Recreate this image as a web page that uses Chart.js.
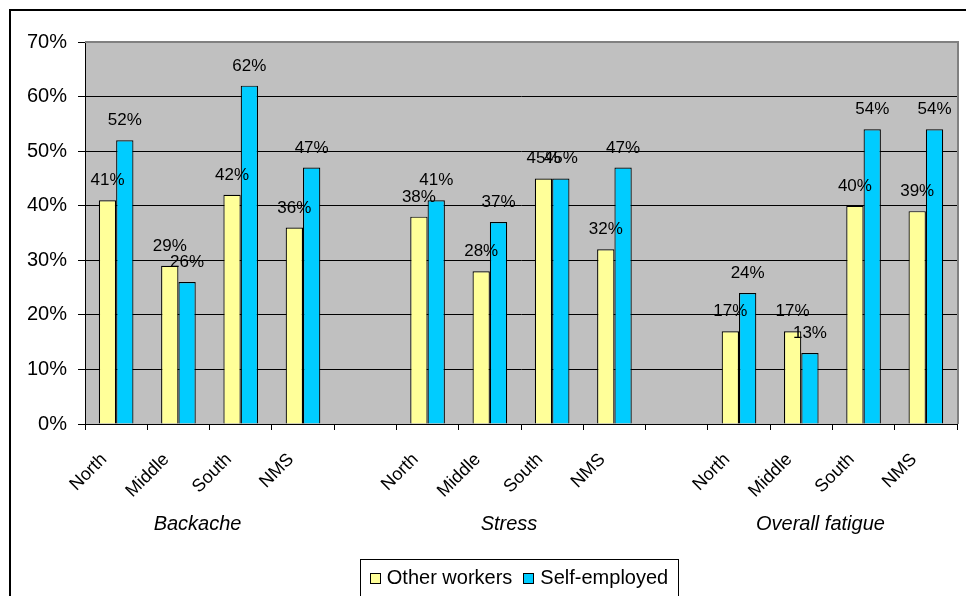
<!DOCTYPE html>
<html>
<head>
<meta charset="utf-8">
<script src="https://cdn.jsdelivr.net/npm/chart.js@4.4.1/dist/chart.umd.min.js"></script>
<style>
  html, body { margin: 0; padding: 0; background: #ffffff; }
  #wrap { width: 966px; height: 596px; position: relative; }
</style>
</head>
<body>
<div id="wrap"><canvas id="c" width="966" height="596"></canvas></div>
<script>
// Regions per symptom group; empty slots separate the groups
const categories = ['North', 'Middle', 'South', 'NMS', '',
                    'North', 'Middle', 'South', 'NMS', '',
                    'North', 'Middle', 'South', 'NMS'];
const groups = ['Backache', 'Stress', 'Overall fatigue'];
const groupSpans = [[0, 3], [5, 8], [10, 13]];
const seriesNames = ['Other workers', 'Self-employed'];
const otherWorkers = [41, 29, 42, 36, null, 38, 28, 45, 32, null, 17, 17, 40, 39];
const selfEmployed = [52, 26, 62, 47, null, 41, 37, 45, 47, null, 24, 13, 54, 54];
const yTicks = [0, 10, 20, 30, 40, 50, 60, 70];

const FONT = "'Liberation Sans', Arial, sans-serif";
const colors = ['#FFFF99', '#00CCFF'];

// Grey plot background, frame lines, value labels, group names and boxed legend
const decor = {
  id: 'decor',
  beforeDraw(chart) {
    const { ctx, chartArea: a } = chart;
    ctx.save();
    ctx.fillStyle = '#C0C0C0';
    ctx.fillRect(a.left, a.top, a.right - a.left, a.bottom - a.top);
    ctx.restore();
  },
  beforeDatasetsDraw(chart) {
    const { ctx, chartArea: a } = chart;
    ctx.save();
    ctx.strokeStyle = '#808080';
    ctx.lineWidth = 2;
    ctx.beginPath();
    ctx.moveTo(a.left, a.top);
    ctx.lineTo(a.right + 1, a.top);
    ctx.lineTo(a.right + 1, a.bottom);
    ctx.stroke();
    ctx.restore();
  },
  afterDraw(chart) {
    const { ctx, chartArea: a } = chart;
    ctx.save();
    // outer frame
    ctx.strokeStyle = '#000';
    ctx.lineWidth = 2;
    ctx.beginPath();
    ctx.moveTo(10, chart.height);
    ctx.lineTo(10, 10);
    ctx.lineTo(chart.width, 10);
    ctx.stroke();

    // value labels
    ctx.fillStyle = '#000';
    ctx.font = '17px ' + FONT;
    ctx.textAlign = 'center';
    ctx.textBaseline = 'alphabetic';
    chart.data.datasets.forEach((ds, di) => {
      chart.getDatasetMeta(di).data.forEach((bar, i) => {
        const v = ds.data[i];
        if (v === null || v === undefined) return;
        ctx.fillText(v + '%', bar.x, bar.y - 15);
      });
    });

    // group names under the category labels
    const xs = chart.scales.x;
    ctx.font = 'italic 20px ' + FONT;
    ctx.textBaseline = 'middle';
    groups.forEach((g, gi) => {
      const [s, e] = groupSpans[gi];
      const cx = (xs.getPixelForValue(s) + xs.getPixelForValue(e)) / 2 - 12;
      ctx.fillText(g, cx, a.bottom + 100);
    });

    // legend
    ctx.font = '20px ' + FONT;
    const box = 11, gapBox = 6, gapItem = 11, padX = 10;
    const widths = seriesNames.map(n => ctx.measureText(n).width);
    let total = padX * 2;
    widths.forEach((w, i) => { total += box + gapBox + w + (i ? gapItem : 0); });
    const lx = (a.left + a.right) / 2 - total / 2 - 2;
    const ly = a.bottom + 135;
    const lh = 38;
    ctx.strokeStyle = '#000';
    ctx.lineWidth = 1;
    ctx.strokeRect(Math.round(lx) + 0.5, Math.round(ly) + 0.5, Math.round(total), lh);
    let x = lx + padX;
    const cy = ly + 18;
    ctx.textAlign = 'left';
    ctx.textBaseline = 'middle';
    seriesNames.forEach((n, i) => {
      if (i) x += gapItem;
      ctx.fillStyle = colors[i];
      ctx.fillRect(Math.round(x), Math.round(cy - 4), box, box);
      ctx.strokeRect(Math.round(x) + 0.5, Math.round(cy - 4) + 0.5, box - 1, box - 1);
      x += box + gapBox;
      ctx.fillStyle = '#000';
      ctx.fillText(n, x, cy + 1);
      x += widths[i];
    });
    ctx.restore();
  }
};

new Chart(document.getElementById('c'), {
  type: 'bar',
  data: {
    labels: categories,
    datasets: [
      { label: seriesNames[0], data: otherWorkers, backgroundColor: colors[0],
        borderColor: '#000', borderWidth: 1.2 },
      { label: seriesNames[1], data: selfEmployed, backgroundColor: colors[1],
        borderColor: '#000', borderWidth: 1.2 }
    ]
  },
  options: {
    responsive: false,
    animation: false,
    devicePixelRatio: 1,
    layout: { padding: { left: 0, right: 9, top: 42, bottom: 0 }, autoPadding: false },
    datasets: { bar: { categoryPercentage: 0.556, barPercentage: 1.0 } },
    plugins: { legend: { display: false }, tooltip: { enabled: false } },
    scales: {
      x: {
        grid: { offset: true, drawOnChartArea: false, drawTicks: true, tickLength: 6,
                tickColor: '#000' },
        border: { color: '#000', width: 1 },
        ticks: { minRotation: 45, maxRotation: 45, autoSkip: false, color: '#000',
                 font: { family: FONT, size: 18 }, padding: 19, labelOffset: -12 },
        afterFit(s) { s.height = 172; }
      },
      y: {
        min: 0, max: 70,
        afterBuildTicks(s) { s.ticks = yTicks.map(v => ({ value: v })); },
        grid: {
          color: c => (c.tick && c.tick.value === 70) ? 'rgba(0,0,0,0)' : '#000',
          tickColor: '#000', tickLength: 7, lineWidth: 1
        },
        border: { color: '#000', width: 1 },
        ticks: { color: '#000', font: { family: FONT, size: 20 }, padding: 11,
                 callback: v => v + '%' },
        afterFit(s) { s.width = 85; }
      }
    }
  },
  plugins: [decor]
});
</script>
</body>
</html>
